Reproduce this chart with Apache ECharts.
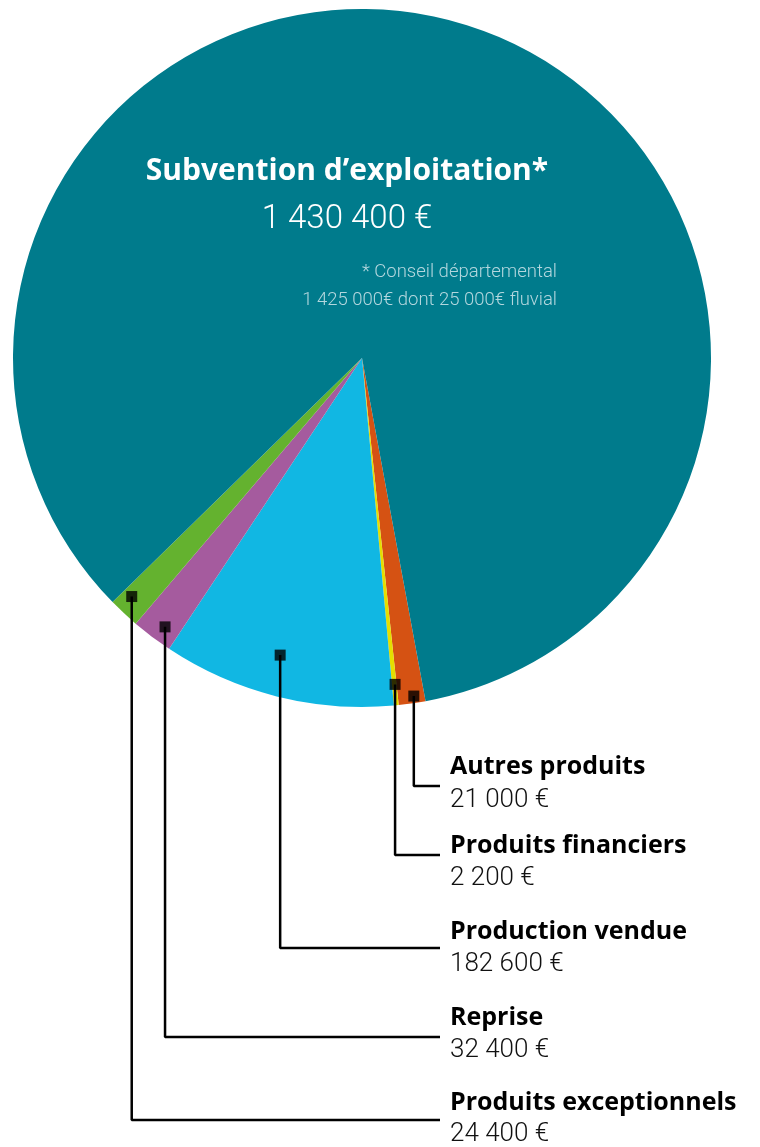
<!DOCTYPE html>
<html>
<head>
<meta charset="utf-8">
<script src="https://cdn.jsdelivr.net/npm/echarts@6/dist/echarts.min.js"></script>
<style>
html,body{margin:0;padding:0;background:#fff;}
#chart{width:760px;height:1147px;}
</style>
</head>
<body>
<div id="chart"></div>
<script>
// ---- data ----
const categories = ['Autres produits','Produits financiers','Production vendue','Reprise','Produits exceptionnels','Subvention d’exploitation*'];
const values = [21000, 2200, 182600, 32400, 24400, 1430400];
const valueLabels = ['21 000 €','2 200 €','182 600 €','32 400 €','24 400 €','1 430 400 €'];
const footnoteLines = ['* Conseil départemental','1 425 000€ dont 25 000€ fluvial'];

// ---- styles / layout ----
const colors = ['#D55213','#E5DF00','#11B7E3','#A55B9E','#64B22F','#007B8C'];
const pieCenter = [362, 358];
const pieRadius = 349;
const startAngle = 280.5;
const anchorFrac = [0.40, 0.53, 0.54, 0.43, 0.74];   // position of marker along slice angle
const anchorRad  = [0.98, 0.94, 0.883, 0.955, 0.95]; // marker distance from centre (fraction of radius)
const lineY  = [786, 855, 948, 1037, 1120];
const nameY  = [767, 846, 932, 1018, 1103];
const valueY = [800, 878, 964, 1050, 1134];
const lineEndX = 440;
const textX = 450;

// compute marker anchors from the pie geometry
const total = values.reduce((a,b)=>a+b,0);
const anchors = [];
let cum = 0;
for (let i = 0; i < 5; i++) {
  const span = values[i] / total * 360;
  const a = (startAngle - cum - anchorFrac[i] * span) * Math.PI / 180;
  const r = pieRadius * anchorRad[i];
  anchors.push([pieCenter[0] + r * Math.cos(a), pieCenter[1] - r * Math.sin(a)]);
  cum += span;
}

const series = [{
  type: 'pie',
  center: pieCenter,
  radius: pieRadius,
  startAngle: startAngle,
  clockwise: true,
  minAngle: 0.8,
  silent: true,
  z: 1,
  label: {show: false},
  labelLine: {show: false},
  emphasis: {disabled: true},
  itemStyle: {borderWidth: 0},
  data: categories.map((c, i) => ({name: c, value: values[i], itemStyle: {color: colors[i]}}))
}];

anchors.forEach((p, i) => {
  series.push({
    type: 'line', xAxisIndex: 0, yAxisIndex: 0, z: 3, silent: true,
    symbol: 'none',
    lineStyle: {color: '#000', width: 2.5},
    data: [[p[0], p[1]], [p[0], lineY[i]], [lineEndX, lineY[i]]]
  });
});

series.push({
  type: 'scatter', z: 4, silent: true,
  symbol: 'rect', symbolSize: 11,
  itemStyle: {color: '#000'},
  data: anchors
});

const chart = echarts.init(document.getElementById('chart'), null, {renderer: 'canvas'});
chart.setOption({
  animation: false,
  grid: {left: 0, right: 0, top: 0, bottom: 0},
  xAxis: {type: 'value', min: 0, max: 760, show: false},
  yAxis: {type: 'value', min: 0, max: 1147, inverse: true, show: false},
  series: series
});

// text labels, positioned through the grid's scales
const graphics = [
  {type: 'text', x: 347, y: 171, z: 10, style: {text: categories[5], fill: '#fff', font: 'bold 30px "Open Sans"', textAlign: 'center', textVerticalAlign: 'middle'}},
  {type: 'text', x: 347, y: 220, z: 10, style: {text: valueLabels[5], fill: '#fff', font: '300 33px Roboto', textAlign: 'center', textVerticalAlign: 'middle'}},
  {type: 'text', x: 557, y: 272, z: 10, style: {text: footnoteLines[0], fill: '#B3D7DE', font: '300 18.5px Roboto', textAlign: 'right', textVerticalAlign: 'middle'}},
  {type: 'text', x: 557, y: 300, z: 10, style: {text: footnoteLines[1], fill: '#B3D7DE', font: '300 18.5px Roboto', textAlign: 'right', textVerticalAlign: 'middle'}}
];
for (let i = 0; i < 5; i++) {
  const pn = chart.convertToPixel({gridIndex: 0}, [textX, nameY[i]]);
  const pv = chart.convertToPixel({gridIndex: 0}, [textX, valueY[i]]);
  graphics.push({type: 'text', x: pn[0], y: pn[1], z: 10, style: {text: categories[i], fill: '#000', font: 'bold 25px "Open Sans"', textAlign: 'left', textVerticalAlign: 'middle'}});
  graphics.push({type: 'text', x: pv[0], y: pv[1], z: 10, style: {text: valueLabels[i], fill: '#111', font: '300 26px Roboto', textAlign: 'left', textVerticalAlign: 'middle'}});
}
chart.setOption({graphic: graphics});
</script>
</body>
</html>
